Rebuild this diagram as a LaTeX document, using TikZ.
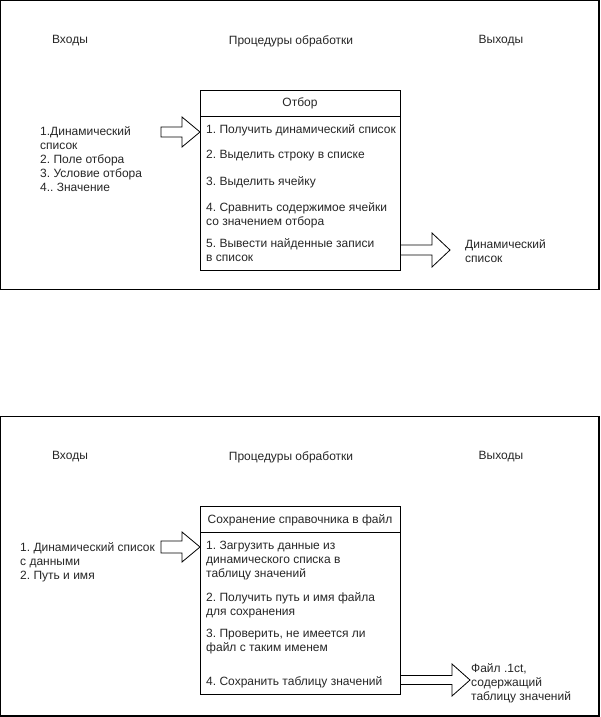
\documentclass[tikz,border=0pt]{standalone}
\usepackage{fontspec}
\setmainfont{Liberation Sans}
\usetikzlibrary{calc}
\frenchspacing
\tikzset{
  frame/.style={draw=black, line width=1.3pt},
  listbox/.style={draw=black, line width=1pt},
  lbl/.style={inner sep=0pt, font=\fontsize{12}{14}\selectfont\frenchspacing, text=black!85},
  itm/.style={lbl, anchor=west, align=left},
  flexarrow/.style={draw=black, fill=white, line width=0.8pt, line join=miter},
}
\newcommand\blockarrow[5]{%
  \draw[flexarrow] let \p1=(#1), \p2=(#2) in
    (\x1,\y1+#3) -- (\x2-#5,\y1+#3) -- (\x2-#5,\y1+#4) -- (\x2,\y1)
    -- (\x2-#5,\y1-#4) -- (\x2-#5,\y1-#3) -- (\x1,\y1-#3) -- cycle;}
\begin{document}
\begin{tikzpicture}[x=1pt,y=-1pt]
\useasboundingbox (0,0) rectangle (601,717);
% ---------- top panel ----------
\draw[frame] (0.8,0.8) rectangle (599,289.5);
\node[lbl] (inT) at (70,41) {Входы};
\node[lbl] (prT) at (291,41) {Процедуры обработки};
\node[lbl] (outT) at (501,41) {Выходы};
\draw[listbox] (200,90) rectangle (400,270);
\draw[listbox] (200,116) -- (400,116);
\node[lbl] (boxA) at (300,103) {Отбор};
\node[itm] (a1) at (206,130) {1. Получить динамический список};
\node[itm] (a2) at (206,156) {2. Выделить строку в списке};
\node[itm] (a3) at (206,182) {3. Выделить ячейку};
\node[itm] (a4) at (206,215) {4. Сравнить содержимое ячейки\\со значением отбора};
\node[itm] (a5) at (206,250.5) {5. Вывести найденные записи\\в список};
\node[itm] (inA) at (40,159.5) {1.Динамический\\список\\2. Поле отбора\\3. Условие отбора\\4.. Значение};
\node[itm] (outA) at (465,251) {Динамический\\список};
\coordinate (inAs) at (161,132);
\coordinate (inAe) at (200,132);
\coordinate (outAs) at (400.5,250);
\coordinate (outAe) at (450,250);
\blockarrow{inAs}{inAe}{5pt}{15pt}{18pt}
\blockarrow{outAs}{outAe}{5pt}{17pt}{18pt}
% ---------- bottom panel ----------
\draw[frame] (0.8,416.5) rectangle (599,716);
\node[lbl] (inB) at (70,457) {Входы};
\node[lbl] (prB) at (291,457) {Процедуры обработки};
\node[lbl] (outB) at (501,457) {Выходы};
\draw[listbox] (200,506) rectangle (400,694);
\draw[listbox] (200,532) -- (400,532);
\node[lbl] (boxB) at (300,520) {Сохранение справочника в файл};
\node[itm] (b1) at (206,561) {1. Загрузить данные из\\динамического списка в\\таблицу значений};
\node[itm] (b2) at (206,605) {2. Получить путь и имя файла\\для сохранения};
\node[itm] (b3) at (206,642) {3. Проверить, не имеется ли\\файл с таким именем};
\node[itm] (b4) at (206,682) {4. Сохранить таблицу значений};
\node[itm] (inBt) at (20,562) {1. Динамический список\\с данными\\2. Путь и имя};
\node[itm] (outBt) at (471,683.5) {Файл .1ct,\\содержащий\\таблицу значений};
\coordinate (inBs) at (161,547);
\coordinate (inBe) at (200,547);
\coordinate (outBs) at (400.5,680);
\coordinate (outBe) at (470,680);
\blockarrow{inBs}{inBe}{6pt}{15pt}{18pt}
\blockarrow{outBs}{outBe}{4.5pt}{16pt}{18pt}
\end{tikzpicture}
\end{document}
